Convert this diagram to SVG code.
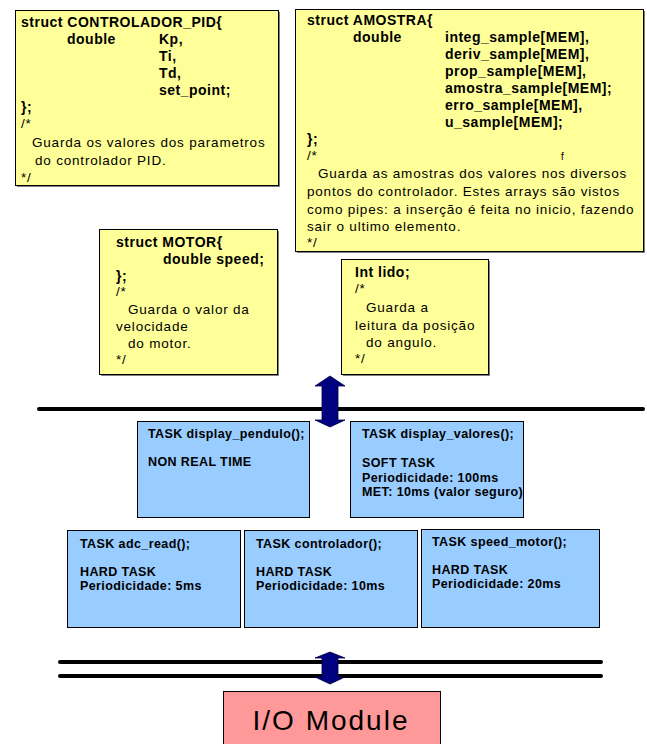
<svg xmlns="http://www.w3.org/2000/svg" width="647" height="744" viewBox="0 0 647 744">
<style>
  text { font-family: "Liberation Sans", Arial, sans-serif; fill: #000; }
  .b { font-size: 14px; font-weight: bold; letter-spacing: 0.5px; }
  .r { font-size: 13.5px; letter-spacing: 0.8px; }
  .t { font-size: 12.5px; font-weight: bold; letter-spacing: 0.4px; }
  .note { fill: #FFFF99; stroke: #000; stroke-width: 1; }
  .task { fill: #99CCFF; stroke: #000; stroke-width: 1; }
  .io { fill: #FF9999; stroke: #000; stroke-width: 1; }
  .shadow { fill: #808080; }
  .bus { stroke: #000; stroke-width: 4; stroke-linecap: round; }
  .arrow { fill: #000080; stroke: #000040; stroke-width: 0.8; }
</style>

<g id="buses">
  <line class="bus" x1="39" y1="409" x2="643" y2="409"/>
  <line class="bus" x1="60" y1="662" x2="601" y2="662"/>
  <line class="bus" x1="60" y1="676" x2="601" y2="676"/>
</g>

<g id="controlador_pid">
  <rect class="shadow" x="17" y="12" width="263" height="175"/>
  <rect class="note" x="15.5" y="10.5" width="263" height="175"/>
  <text class="b" x="21" y="27">struct CONTROLADOR_PID{</text>
  <text class="b" x="67" y="44">double</text>
  <text class="b" x="159" y="44">Kp,</text>
  <text class="b" x="159" y="61">Ti,</text>
  <text class="b" x="159" y="78">Td,</text>
  <text class="b" x="159" y="95">set_point;</text>
  <text class="b" x="21" y="112">};</text>
  <text class="r" x="21" y="128">/*</text>
  <text class="r" x="32" y="147">Guarda os valores dos parametros</text>
  <text class="r" x="35" y="165">do controlador PID.</text>
  <text class="r" x="21" y="182">*/</text>
</g>

<g id="amostra">
  <rect class="shadow" x="297" y="11" width="348" height="242"/>
  <rect class="note" x="295.5" y="9.5" width="348" height="242"/>
  <text class="b" x="307" y="25">struct AMOSTRA{</text>
  <text class="b" x="353" y="42">double</text>
  <text class="b" x="445" y="42">integ_sample[MEM],</text>
  <text class="b" x="445" y="59">deriv_sample[MEM],</text>
  <text class="b" x="445" y="76">prop_sample[MEM],</text>
  <text class="b" x="445" y="93">amostra_sample[MEM];</text>
  <text class="b" x="445" y="110">erro_sample[MEM],</text>
  <text class="b" x="445" y="127">u_sample[MEM];</text>
  <text class="b" x="307" y="144">};</text>
  <text class="r" x="307" y="160">/*</text>
  <text class="r" x="561" y="160" style="font-size:10px">f</text>
  <text class="r" x="318" y="178">Guarda as amostras dos valores nos diversos</text>
  <text class="r" x="307" y="196">pontos do controlador. Estes arrays são vistos</text>
  <text class="r" x="307" y="214">como pipes: a inserção é feita no inicio, fazendo</text>
  <text class="r" x="307" y="231">sair o ultimo elemento.</text>
  <text class="r" x="307" y="247">*/</text>
</g>

<g id="motor">
  <rect class="shadow" x="101" y="231" width="178" height="145"/>
  <rect class="note" x="99.5" y="229.5" width="178" height="145"/>
  <text class="b" x="116" y="247">struct MOTOR{</text>
  <text class="b" x="163" y="264">double speed;</text>
  <text class="b" x="116" y="281">};</text>
  <text class="r" x="116" y="296">/*</text>
  <text class="r" x="128" y="314">Guarda o valor da</text>
  <text class="r" x="116" y="331">velocidade</text>
  <text class="r" x="128" y="348">do motor.</text>
  <text class="r" x="116" y="364">*/</text>
</g>

<g id="int_lido">
  <rect class="shadow" x="343" y="261" width="147" height="115"/>
  <rect class="note" x="341.5" y="259.5" width="147" height="115"/>
  <text class="b" x="355" y="277">Int lido;</text>
  <text class="r" x="355" y="293">/*</text>
  <text class="r" x="366" y="312">Guarda a</text>
  <text class="r" x="355" y="330">leitura da posição</text>
  <text class="r" x="366" y="347">do angulo.</text>
  <text class="r" x="355" y="363">*/</text>
</g>

<g id="display_pendulo">
  <rect class="task" x="137.5" y="421.5" width="172" height="96"/>
  <text class="t" x="148" y="438">TASK display_pendulo();</text>
  <text class="t" x="148" y="466">NON REAL TIME</text>
</g>

<g id="display_valores">
  <rect class="task" x="350.5" y="421.5" width="173" height="96"/>
  <text class="t" x="362" y="438">TASK display_valores();</text>
  <text class="t" x="362" y="467">SOFT TASK</text>
  <text class="t" x="362" y="482">Periodicidade: 100ms</text>
  <text class="t" x="362" y="496">MET: 10ms (valor seguro)</text>
</g>

<g id="adc_read">
  <rect class="task" x="67.5" y="530.5" width="173" height="97"/>
  <text class="t" x="80" y="548">TASK adc_read();</text>
  <text class="t" x="80" y="576">HARD TASK</text>
  <text class="t" x="80" y="590">Periodicidade: 5ms</text>
</g>

<g id="controlador">
  <rect class="task" x="244.5" y="530.5" width="173" height="97"/>
  <text class="t" x="256" y="548">TASK controlador();</text>
  <text class="t" x="256" y="576">HARD TASK</text>
  <text class="t" x="256" y="590">Periodicidade: 10ms</text>
</g>

<g id="speed_motor">
  <rect class="task" x="421.5" y="529.5" width="178" height="98"/>
  <text class="t" x="432" y="546">TASK speed_motor();</text>
  <text class="t" x="432" y="574">HARD TASK</text>
  <text class="t" x="432" y="588">Periodicidade: 20ms</text>
</g>

<g id="io_module">
  <rect class="io" x="223.5" y="691.5" width="217" height="60"/>
  <text x="331" y="730" text-anchor="middle" style="font-size:28px; letter-spacing:2px">I/O Module</text>
</g>

<g id="connectors">
  <polygon class="arrow" points="330,376 345,386 338,386 338,420 345,420 330,427 315,420 322,420 322,386 315,386"/>
  <polygon class="arrow" points="330,652 345,658 338,658 338,677 345,677 330,684 315,677 322,677 322,658 315,658"/>
</g>
</svg>
